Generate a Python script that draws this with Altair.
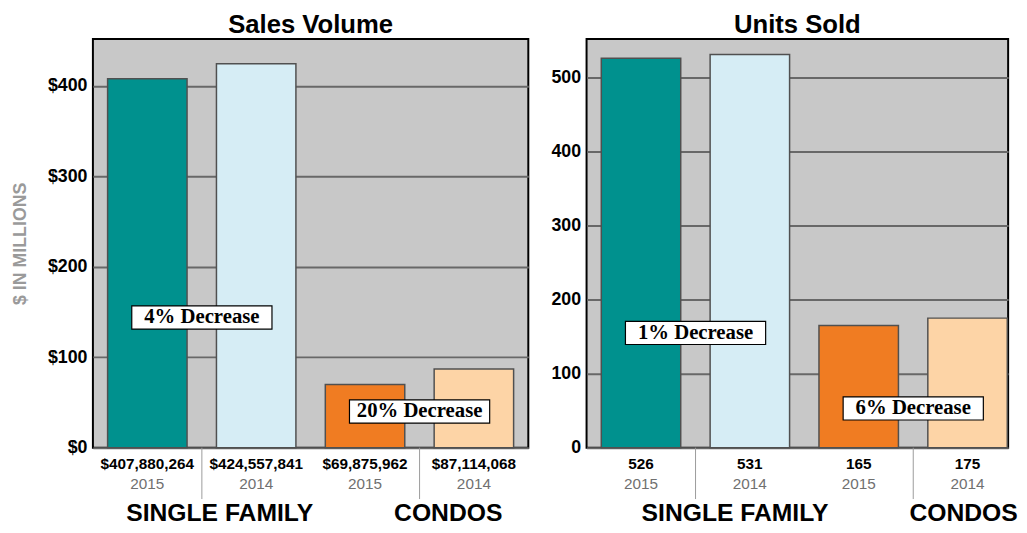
import altair as alt
import pandas as pd

# ---- data ----
categories = ["Single Family 2015", "Single Family 2014", "Condos 2015", "Condos 2014"]
years = ["2015", "2014", "2015", "2014"]
sales_volume = [407880264, 424557841, 69875962, 87114068]
sales_labels = ["$407,880,264", "$424,557,841", "$69,875,962", "$87,114,068"]
units_sold = [526, 531, 165, 175]
units_labels = ["526", "531", "165", "175"]

pair_first = ["Single Family 2015", "Condos 2015"]
sales_change = ["4% Decrease", "20% Decrease"]
sales_change_at = [144, 40]      # $M level of the annotation centre
units_change = ["1% Decrease", "6% Decrease"]
units_change_at = [155, 53]      # units level of the annotation centre
group_names = ["SINGLE FAMILY", "CONDOS"]

bar_colors = ["#00918e", "#d6edf5", "#f07c22", "#fdd4a6"]

H = 414
FONT = "Liberation Sans"
BOX = "M-1,-0.165L1,-0.165L1,0.165L-1,0.165Z"
GAP = 15  # half the inner padding, px beyond a band's end


def panel(values, labels, title, ymax, ticks, label_expr, ytitle,
          change_text, change_at, sf_dx, condo_dx, width, pad_outer, align):
    df = pd.DataFrame({"cat": categories, "year": years,
                       "value": values, "label": labels})
    ann = pd.DataFrame({"cat": pair_first, "text": change_text, "at": change_at,
                        "group": group_names})
    xscale = alt.Scale(domain=categories, paddingInner=0.27, paddingOuter=pad_outer,
                       align=align)
    yscale = alt.Scale(domain=[0, ymax], nice=False)
    axis = alt.Axis(values=ticks, labelExpr=label_expr)

    def Y(**kw):
        if ytitle:
            return alt.Y(scale=yscale, axis=axis, title=ytitle, **kw)
        return alt.Y(scale=yscale, axis=axis, title=None, **kw)

    x_center = alt.X("cat:N", scale=xscale, axis=None, sort=categories)
    x_bound = alt.X("cat:N", scale=xscale, axis=None, sort=categories,
                    bandPosition=1)

    base = alt.Chart(df)
    bars = base.mark_bar(stroke="#505050", strokeWidth=1.5).encode(
        x=x_center,
        y=Y(field="value", type="quantitative"),
        color=alt.Color("cat:N", scale=alt.Scale(domain=categories, range=bar_colors),
                        legend=None),
    )
    val_text = base.mark_text(font=FONT, fontWeight="bold", fontSize=15.5,
                              baseline="middle", dy=17, color="black").encode(
        x=x_center, y=Y(datum=0), text="label:N")
    year_text = base.mark_text(font=FONT, fontSize=15.5, baseline="middle",
                               dy=37, color="#707070").encode(
        x=x_center, y=Y(datum=0), text="year:N")

    a = alt.Chart(ann)
    seps = a.mark_rule(color="#9a9a9a", strokeWidth=1, xOffset=GAP).encode(
        x=x_bound, y=alt.value(H), y2=alt.value(H + 52))
    boxes = a.mark_point(shape=BOX, size=142 * 142, filled=True, fill="white",
                         stroke="black", strokeWidth=1.2, opacity=1, xOffset=GAP).encode(
        x=x_bound, y=Y(field="at", type="quantitative"))
    box_text = a.mark_text(font="Liberation Serif", fontWeight="bold", fontSize=21,
                           baseline="middle", color="black", dx=GAP).encode(
        x=x_bound, y=Y(field="at", type="quantitative"), text="text:N")
    sf = a.transform_filter(alt.datum.group == "SINGLE FAMILY").mark_text(
        font=FONT, fontWeight="bold", fontSize=25, baseline="middle",
        dy=66, dx=GAP + sf_dx, color="black").encode(
        x=x_bound, y=Y(datum=0), text="group:N")
    co = a.transform_filter(alt.datum.group == "CONDOS").mark_text(
        font=FONT, fontWeight="bold", fontSize=25, baseline="middle",
        dy=66, dx=GAP + condo_dx, color="black").encode(
        x=x_bound, y=Y(datum=0), text="group:N")

    return alt.layer(bars, val_text, year_text, seps, boxes, box_text, sf, co).properties(
        width=width, height=H,
        title=alt.TitleParams(title, font=FONT, fontSize=26, fontWeight="bold",
                              color="black", anchor="middle", frame="group", offset=1),
    )


left = panel([v / 1e6 for v in sales_volume], sales_labels, "Sales Volume", 452,
             [0, 100, 200, 300, 400], "'$' + datum.value", "$ IN MILLIONS",
             sales_change, sales_change_at, 18, 29, 441, 0.135, 0.5)
right = panel(units_sold, units_labels, "Units Sold", 552,
              [0, 100, 200, 300, 400, 500], "datum.value", None,
              units_change, units_change_at, 40, 51, 427, 0.0715, 0.945)

chart = alt.hconcat(left, right, spacing=20).properties(
    padding={"left": 2, "top": 0, "right": 0, "bottom": 0}
).configure(
    background="white"
).configure_view(
    fill="#c8c8c8", stroke="black", strokeWidth=2
).configure_axisY(
    labelFont=FONT, labelFontWeight="bold", labelFontSize=18, labelColor="black",
    labelPadding=6, ticks=False, domain=False, grid=True,
    gridColor="#686868", gridWidth=2,
    titleFont=FONT, titleFontWeight="bold", titleFontSize=18, titleColor="#9a9a9a",
    titlePadding=18,
)

chart.save("out.html", embed_options={"renderer": "svg", "actions": False})
